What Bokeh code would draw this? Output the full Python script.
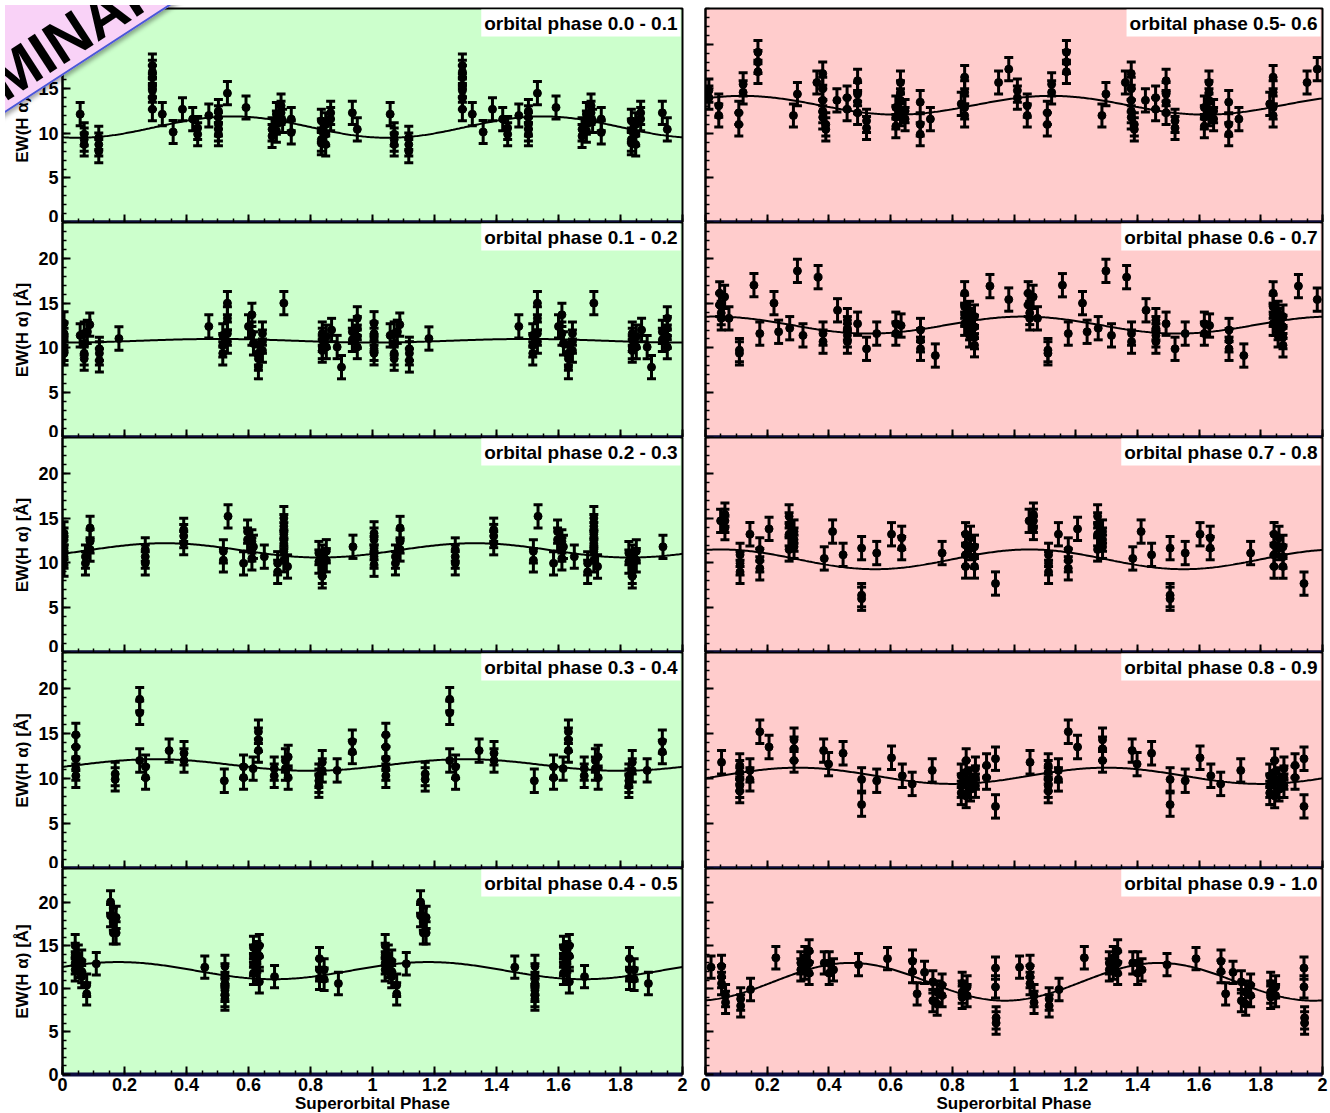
import numpy as np
from bokeh.plotting import figure
from bokeh.models import (Range1d, FixedTicker, Whisker, TeeHead, ColumnDataSource, Label, Div)
from bokeh.layouts import gridplot, column
from bokeh.embed import file_html
from bokeh.resources import INLINE

# ---------------- data (phases in 0..1; plotted twice, 0..2) ----------------
panel_titles = ["orbital phase 0.0 - 0.1", "orbital phase 0.1 - 0.2", "orbital phase 0.2 - 0.3",
                "orbital phase 0.3 - 0.4", "orbital phase 0.4 - 0.5", "orbital phase 0.5- 0.6",
                "orbital phase 0.6 - 0.7", "orbital phase 0.7 - 0.8", "orbital phase 0.8 - 0.9",
                "orbital phase 0.9 - 1.0"]

ph0 = [0.057, 0.07, 0.07, 0.07, 0.117, 0.117, 0.117, 0.29, 0.29, 0.29, 0.29, 0.29, 0.29, 0.29,
       0.322, 0.357, 0.387, 0.42, 0.436, 0.436, 0.472, 0.503, 0.503, 0.503, 0.503, 0.503, 0.532,
       0.592, 0.676, 0.676, 0.69, 0.69, 0.69, 0.705, 0.705, 0.71, 0.738, 0.738,
       0.835, 0.835, 0.835, 0.835, 0.849, 0.849, 0.849, 0.865, 0.865, 0.935, 0.951]
ew0 = [12.15, 9.9, 9.3, 8.75, 9.5, 8.75, 8.0, 17.6, 16.9, 16.3, 15.4, 14.8, 14.0, 12.7,
       12.15, 10.15, 12.7, 11.6, 10.6, 9.9, 12.0, 12.5, 11.8, 11.0, 10.45, 9.9, 14.5,
       12.9, 10.45, 9.7, 12.15, 11.2, 10.3, 13.1, 12.3, 11.4, 11.6, 10.1,
       11.4, 10.3, 9.3, 8.9, 11.0, 9.9, 8.75, 12.3, 11.6, 12.3, 10.45]

ph1 = [0.005, 0.005, 0.005, 0.005, 0.005, 0.057, 0.07, 0.07, 0.07, 0.07, 0.08, 0.088,
       0.119, 0.119, 0.119, 0.182, 0.472, 0.517, 0.517, 0.517, 0.532, 0.532, 0.532, 0.532,
       0.6, 0.611, 0.611, 0.616, 0.632, 0.632, 0.632, 0.645, 0.645, 0.645, 0.714,
       0.838, 0.838, 0.838, 0.838, 0.851, 0.851, 0.868, 0.886, 0.9, 0.935, 0.935,
       0.951, 0.951, 0.951, 0.951]
ew1 = [12.75, 11.6, 10.9, 9.9, 9.4, 11.4, 11.6, 10.5, 9.4, 8.8, 11.8, 12.6,
       9.9, 9.4, 8.6, 11.05, 12.4, 11.4, 10.3, 9.4, 15.0, 13.3, 11.6, 10.7,
       12.4, 13.7, 11.6, 10.5, 9.4, 8.8, 7.85, 11.6, 10.7, 9.7, 15.0,
       11.6, 10.9, 10.1, 9.7, 11.25, 10.1, 12.0, 10.1, 7.85, 11.8, 10.9,
       13.3, 12.2, 11.25, 10.1]

ph2 = [0.005, 0.005, 0.005, 0.005, 0.005, 0.074, 0.074, 0.089, 0.089, 0.089,
       0.267, 0.267, 0.267, 0.391, 0.391, 0.391, 0.519, 0.519, 0.534, 0.584, 0.597, 0.597,
       0.611, 0.611, 0.611, 0.616, 0.651, 0.694, 0.694, 0.714, 0.714, 0.714, 0.714, 0.714, 0.714,
       0.726, 0.827, 0.827, 0.838, 0.838, 0.838, 0.838, 0.851, 0.851, 0.937]
ew2 = [13.3, 12.6, 11.65, 10.7, 9.8, 10.7, 9.96, 13.9, 12.4, 11.5,
       11.5, 10.7, 9.96, 13.7, 13.0, 12.2, 11.3, 10.3, 15.2, 9.96, 13.5, 12.6,
       12.4, 11.5, 10.5, 11.8, 10.7, 9.96, 9.0, 15.0, 14.1, 13.2, 12.2, 11.3, 10.3,
       9.6, 11.1, 10.15, 10.7, 9.8, 9.0, 8.5, 11.3, 10.3, 11.8]

ph3 = [0.043, 0.043, 0.043, 0.043, 0.043, 0.17, 0.17, 0.249, 0.249, 0.249, 0.268, 0.268,
       0.344, 0.392, 0.392, 0.522, 0.584, 0.584, 0.615, 0.632, 0.632, 0.632, 0.683, 0.683,
       0.719, 0.719, 0.728, 0.728, 0.827, 0.827, 0.827, 0.838, 0.838, 0.886, 0.935, 0.935]
ew3 = [14.85, 13.5, 12.2, 11.1, 10.3, 10.5, 9.9, 18.8, 17.3, 12.0, 11.3, 10.1,
       13.1, 12.8, 12.0, 9.75, 11.3, 10.1, 11.1, 15.2, 14.3, 13.1, 11.1, 10.3,
       12.0, 11.1, 12.4, 10.1, 10.3, 9.75, 9.2, 11.8, 10.9, 10.9, 14.1, 12.95]

ph4 = [0.041, 0.041, 0.041, 0.041, 0.051, 0.051, 0.062, 0.062, 0.062, 0.078, 0.078, 0.109,
       0.155, 0.155, 0.164, 0.164, 0.173, 0.173, 0.459,
       0.524, 0.524, 0.524, 0.524, 0.524, 0.524, 0.616, 0.616, 0.616, 0.616,
       0.627, 0.627, 0.627, 0.635, 0.635, 0.635, 0.684, 0.829, 0.829, 0.829, 0.844, 0.844, 0.89]
ew4 = [15.0, 14.0, 13.0, 12.2, 13.8, 12.6, 13.2, 12.0, 11.4, 10.4, 9.4, 12.9,
       20.1, 18.5, 18.1, 16.5, 18.3, 16.5, 12.5,
       12.6, 11.6, 10.6, 9.8, 9.2, 8.8, 14.8, 13.8, 12.8, 11.8,
       14.2, 13.2, 12.2, 15.0, 13.8, 10.8, 11.4, 13.5, 12.2, 11.2, 12.2, 11.1, 10.6]

ph5 = [0.011, 0.011, 0.043, 0.043, 0.108, 0.108, 0.122, 0.122, 0.17, 0.17, 0.17, 0.285, 0.298,
       0.361, 0.38, 0.38, 0.38, 0.38, 0.38, 0.39, 0.39, 0.426, 0.459, 0.459,
       0.493, 0.493, 0.493, 0.493, 0.522, 0.522, 0.617, 0.617, 0.617, 0.632, 0.632, 0.632, 0.632,
       0.647, 0.647, 0.696, 0.696, 0.696, 0.729, 0.829, 0.84, 0.84, 0.84, 0.84, 0.95, 0.983]
ew5 = [14.8, 14.0, 13.1, 12.0, 12.3, 11.0, 15.5, 14.6, 19.1, 18.0, 16.9, 12.0, 14.4,
       15.7, 16.7, 15.0, 13.7, 12.5, 11.8, 11.0, 10.45, 13.7, 14.0, 12.7,
       15.9, 14.4, 13.5, 12.3, 11.4, 10.6, 12.9, 11.8, 10.8, 15.7, 14.6, 13.7, 12.15,
       12.5, 11.6, 13.5, 11.0, 9.9, 11.6, 13.3, 16.3, 14.6, 12.9, 12.0, 15.7, 17.2]

ph6 = [0.046, 0.046, 0.051, 0.051, 0.062, 0.076, 0.11, 0.11, 0.157, 0.176, 0.222, 0.237, 0.273,
       0.298, 0.316, 0.365, 0.381, 0.381, 0.428, 0.46, 0.46, 0.46, 0.46, 0.493, 0.522, 0.555,
       0.617, 0.617, 0.634, 0.697, 0.697, 0.697, 0.745, 0.84, 0.84, 0.84, 0.84,
       0.856, 0.856, 0.856, 0.856, 0.872, 0.872, 0.872, 0.872, 0.922, 0.983]
ew6 = [16.1, 14.8, 13.9, 13.3, 15.7, 13.3, 9.75, 9.4, 17.0, 11.6, 15.0, 11.8, 12.2,
       18.6, 11.4, 17.9, 11.6, 10.7, 14.2, 13.1, 12.2, 11.4, 10.7, 12.7, 9.9, 11.6,
       12.7, 11.6, 12.5, 12.0, 10.85, 9.9, 9.15, 16.1, 14.6, 13.7, 12.7,
       13.9, 13.1, 12.2, 11.4, 13.5, 12.35, 11.2, 10.3, 16.9, 15.4]

ph7 = [0.049, 0.063, 0.063, 0.063, 0.112, 0.112, 0.112, 0.144, 0.176, 0.176, 0.176, 0.206,
       0.271, 0.271, 0.271, 0.271, 0.287, 0.287, 0.287, 0.385, 0.412, 0.446, 0.506, 0.506, 0.506,
       0.555, 0.603, 0.636, 0.636, 0.767, 0.843, 0.843, 0.843, 0.843, 0.859, 0.859,
       0.872, 0.872, 0.872, 0.94]
ew7 = [14.7, 15.4, 14.7, 13.9, 10.9, 9.96, 9.0, 13.2, 11.5, 10.3, 9.4, 13.8,
       15.2, 14.3, 13.2, 11.5, 13.5, 12.6, 11.8, 10.5, 13.5, 10.9, 11.65, 6.4, 6.0,
       11.1, 13.2, 12.8, 11.65, 11.1, 13.2, 12.0, 10.9, 9.6, 12.8, 11.65,
       11.8, 10.7, 9.6, 7.7]

ph8 = [0.052, 0.111, 0.111, 0.111, 0.111, 0.111, 0.144, 0.144, 0.176, 0.206, 0.287, 0.287, 0.287,
       0.383, 0.399, 0.446, 0.506, 0.506, 0.555, 0.603, 0.638, 0.67, 0.735,
       0.829, 0.829, 0.829, 0.845, 0.845, 0.845, 0.845, 0.859, 0.859, 0.875, 0.875, 0.875,
       0.911, 0.911, 0.94, 0.94]
ew8 = [11.8, 11.45, 10.7, 9.9, 9.2, 8.6, 10.9, 9.9, 15.2, 13.5, 14.3, 13.3, 12.0,
       13.1, 11.6, 12.8, 9.9, 7.1, 9.75, 12.3, 10.3, 9.4, 10.9,
       10.3, 9.2, 8.4, 12.0, 10.7, 9.6, 8.06, 9.9, 8.8, 11.1, 10.1, 9.2,
       11.45, 10.1, 12.2, 6.9]

ph9 = [0.018, 0.052, 0.052, 0.052, 0.065, 0.065, 0.114, 0.114, 0.146, 0.228, 0.309, 0.309,
       0.322, 0.322, 0.336, 0.336, 0.336, 0.385, 0.401, 0.401, 0.415, 0.496, 0.59,
       0.671, 0.671, 0.686, 0.71, 0.737, 0.737, 0.751, 0.751, 0.767, 0.767,
       0.832, 0.832, 0.832, 0.848, 0.848, 0.94, 0.94, 0.942, 0.942]
ew9 = [12.5, 12.6, 11.4, 10.6, 9.2, 8.4, 8.8, 8.0, 9.9, 13.6, 13.0, 12.2,
       13.6, 12.4, 14.4, 13.0, 11.8, 13.0, 13.0, 11.8, 12.2, 12.8, 13.5,
       13.2, 12.0, 9.4, 11.9, 10.8, 8.6, 9.6, 8.2, 10.4, 9.2,
       10.6, 9.6, 9.0, 10.2, 9.2, 12.4, 10.2, 6.6, 6.0]

phases = [ph0, ph1, ph2, ph3, ph4, ph5, ph6, ph7, ph8, ph9]
ews = [ew0, ew1, ew2, ew3, ew4, ew5, ew6, ew7, ew8, ew9]
errs = [1.3, 1.3, 1.3, 1.3, 1.3, 1.3, 1.3, 1.3, 1.3, 1.3]

# sinusoidal fit: mean, semi-amplitude, phase of maximum
fit_mean = [10.7, 10.8, 11.4, 11.5, 12.1, 13.15, 12.55, 10.4, 10.3, 10.8]
fit_amp = [1.2, 0.2, 0.8, 0.65, 1.0, 1.05, 0.95, 1.1, 0.9, 2.2]
fit_peak = [0.55, 0.5, 0.33, 0.3, 0.18, 0.12, 0.03, 0.05, 0.3, 0.47]

x_ticks = [0, 0.2, 0.4, 0.6, 0.8, 1, 1.2, 1.4, 1.6, 1.8, 2]
x_tick_labels = ["0", "0.2", "0.4", "0.6", "0.8", "1", "1.2", "1.4", "1.6", "1.8", "2"]
y_ticks = [0, 5, 10, 15, 20]

# ---------------- layout ----------------
FONT = "Liberation Sans"
frame_h = [214, 215, 215, 216, 206]
bg = ["#ccffcc", "#ffcccc"]
x_minor = [round(i * 0.05, 2) for i in range(41)]
y_minor = [i for i in range(25)]


def no_labels(ax):
    ax.major_label_text_font_size = "0px"
    ax.major_label_standoff = 0


rows = []
for r in range(5):
    row = []
    for c in range(2):
        k = c * 5 + r
        left = c == 0
        bottom = r == 4
        fw = 620 if left else 617
        fh = frame_h[r]
        p = figure(frame_width=fw, frame_height=fh,
                   x_range=Range1d(0, 2), y_range=Range1d(0, 24),
                   output_backend="svg", toolbar_location=None,
                   min_border_left=62 if left else 15, min_border_right=8,
                   min_border_top=8 if r == 0 else 0,
                   min_border_bottom=39 if bottom else 0,
                   background_fill_color=bg[c], border_fill_color="white",
                   outline_line_color="black", outline_line_width=2)
        p.xgrid.visible = False
        p.ygrid.visible = False

        xa = p.xaxis[0]
        xa.ticker = FixedTicker(ticks=x_ticks, minor_ticks=x_minor)
        xa.major_tick_in = 8
        xa.major_tick_out = 0
        xa.minor_tick_in = 4
        xa.minor_tick_out = 0
        xa.major_tick_line_width = 2
        xa.minor_tick_line_width = 1.5
        xa.axis_line_color = "#0d0d40"
        xa.axis_line_width = 4
        if bottom:
            xa.major_label_overrides = {t: s for t, s in zip(x_ticks, x_tick_labels)}
            xa.major_label_text_font = FONT
            xa.major_label_text_font_style = "bold"
            xa.major_label_text_font_size = "18px"
            xa.major_label_text_color = "black"
            xa.major_label_standoff = 3
            xa.axis_label = "Superorbital Phase"
            xa.axis_label_text_font = FONT
            xa.axis_label_text_font_style = "bold"
            xa.axis_label_text_font_size = "17px"
            xa.axis_label_text_color = "black"
            xa.axis_label_standoff = 0
        else:
            no_labels(xa)

        ya = p.yaxis[0]
        ya.ticker = FixedTicker(ticks=y_ticks, minor_ticks=y_minor)
        ya.major_tick_in = 8
        ya.major_tick_out = 0
        ya.minor_tick_in = 4
        ya.minor_tick_out = 0
        ya.major_tick_line_width = 2
        ya.minor_tick_line_width = 1.5
        ya.axis_line_width = 2
        if left:
            ya.major_label_text_font = FONT
            ya.major_label_text_font_style = "bold"
            ya.major_label_text_font_size = "18px"
            ya.major_label_text_color = "black"
            ya.major_label_standoff = 4
            ya.axis_label = "EW(H α) [Å]"
            ya.axis_label_text_font = FONT
            ya.axis_label_text_font_style = "bold"
            ya.axis_label_text_font_size = "17px"
            ya.axis_label_text_color = "black"
            ya.axis_label_standoff = 3
        else:
            no_labels(ya)

        # fit curve
        xs = np.linspace(0, 2, 401)
        ys = fit_mean[k] + fit_amp[k] * np.cos(2 * np.pi * (xs - fit_peak[k]))
        p.line(xs, ys, line_color="black", line_width=2)

        # data, shown over two superorbital cycles
        x1 = np.array(phases[k])
        y1 = np.array(ews[k])
        x = np.concatenate([x1, x1 + 1])
        y = np.concatenate([y1, y1])
        e = errs[k]
        src = ColumnDataSource(dict(x=x, y=y, lo=y - e, hi=y + e))
        w = Whisker(base="x", lower="lo", upper="hi", source=src, dimension="height",
                    line_color="black", line_width=3,
                    upper_head=TeeHead(size=9, line_width=3, line_color="black"),
                    lower_head=TeeHead(size=9, line_width=3, line_color="black"))
        p.add_layout(w)
        p.scatter("x", "y", source=src, size=8, color="black")

        p.add_layout(Label(x=fw - 2, y=fh - 1, x_units="screen", y_units="screen",
                           text=panel_titles[k], text_align="right", text_baseline="top",
                           text_font=FONT, text_font_style="bold", text_font_size="19px",
                           text_color="black", background_fill_color="white", padding=3))
        row.append(p)
    rows.append(row)

grid = gridplot(rows, toolbar_location=None)

stamp_html = (
    '<div style="position:absolute; left:-120px; top:86px; width:440px; height:100px; '
    'transform-origin:0% 100%; transform:rotate(-33deg); background:#f9d2f7; '
    'border:2px solid #4a58d8; box-shadow:3px 3px 4px rgba(0,0,0,0.35); box-sizing:border-box;">'
    '<span style="position:absolute; left:-30px; bottom:-3px; line-height:1; font-size:60px; '
    "font-weight:bold; font-family:'Liberation Sans'; color:black; white-space:nowrap;\">"
    'PRELIMINARY</span></div>'
)
stamp = Div(text=stamp_html, width=200, height=140,
            styles={"position": "absolute", "left": "0px", "top": "0px",
                    "z-index": "10", "overflow": "hidden", "pointer-events": "none"})

layout = column(grid, stamp)
open("out.html", "w").write(file_html(layout, INLINE))
